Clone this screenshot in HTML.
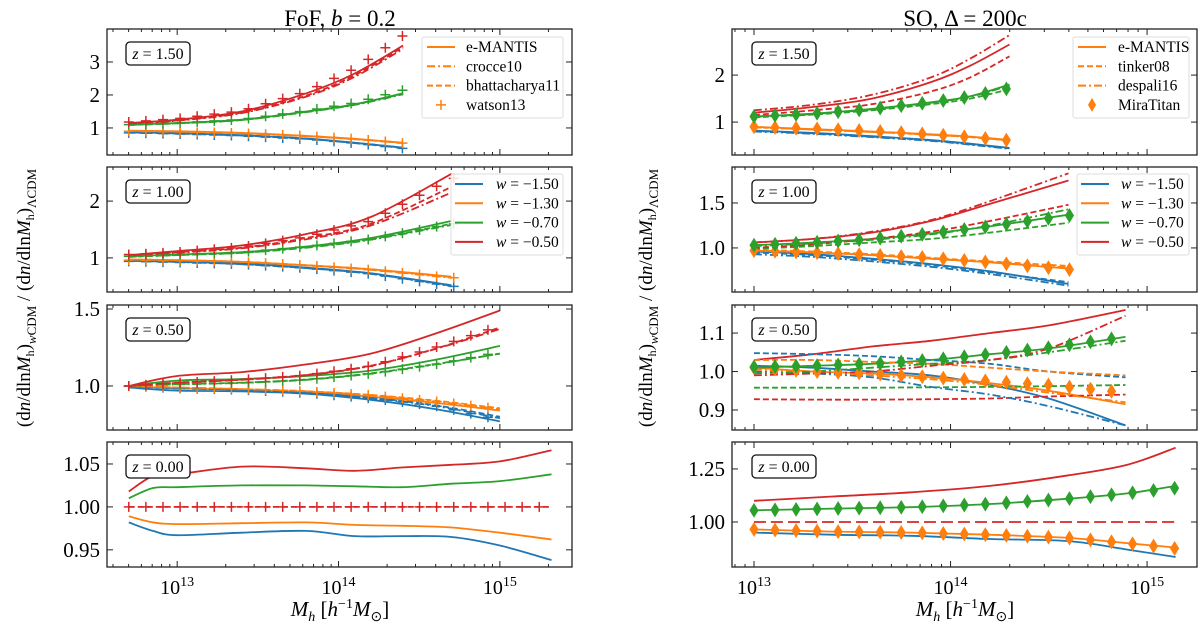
<!DOCTYPE html>
<html><head><meta charset="utf-8"><style>
html,body{margin:0;padding:0;background:#fff;}
svg{display:block;font-family:"Liberation Serif",serif;}
</style></head><body>
<svg id="fig" width="1200" height="627" viewBox="0 0 1200 627" xmlns="http://www.w3.org/2000/svg">
<text x="340" y="26" font-size="23" text-anchor="middle">FoF, <tspan font-style="italic">b</tspan> = 0.2</text>
<text x="965" y="26" font-size="23" text-anchor="middle">SO, Δ = 200c</text>
<text x="340" y="616" font-size="21" text-anchor="middle"><tspan font-style="italic">M</tspan><tspan font-style="italic" font-size="14" dy="5">h</tspan><tspan dy="-5">  [</tspan><tspan font-style="italic">h</tspan><tspan font-size="14" dy="-8">−1</tspan><tspan font-style="italic" dy="8">M</tspan><tspan font-size="14" dy="5">⊙</tspan><tspan dy="-5">]</tspan></text>
<text x="965" y="616" font-size="21" text-anchor="middle"><tspan font-style="italic">M</tspan><tspan font-style="italic" font-size="14" dy="5">h</tspan><tspan dy="-5">  [</tspan><tspan font-style="italic">h</tspan><tspan font-size="14" dy="-8">−1</tspan><tspan font-style="italic" dy="8">M</tspan><tspan font-size="14" dy="5">⊙</tspan><tspan dy="-5">]</tspan></text>
<text transform="translate(30,298) rotate(-90)" font-size="19" text-anchor="middle">(d<tspan font-style="italic">n</tspan>/dln<tspan font-style="italic">M</tspan><tspan font-size="12" dy="4">h</tspan><tspan dy="-4">)</tspan><tspan font-size="13" dy="6" font-style="italic">w</tspan><tspan font-size="13">CDM</tspan><tspan dy="-6"> / (d</tspan><tspan font-style="italic">n</tspan>/dln<tspan font-style="italic">M</tspan><tspan font-size="12" dy="4">h</tspan><tspan dy="-4">)</tspan><tspan font-size="13" dy="6">ΛCDM</tspan></text>
<text transform="translate(652,298) rotate(-90)" font-size="19" text-anchor="middle">(d<tspan font-style="italic">n</tspan>/dln<tspan font-style="italic">M</tspan><tspan font-size="12" dy="4">h</tspan><tspan dy="-4">)</tspan><tspan font-size="13" dy="6" font-style="italic">w</tspan><tspan font-size="13">CDM</tspan><tspan dy="-6"> / (d</tspan><tspan font-style="italic">n</tspan>/dln<tspan font-style="italic">M</tspan><tspan font-size="12" dy="4">h</tspan><tspan dy="-4">)</tspan><tspan font-size="13" dy="6">ΛCDM</tspan></text>
</svg>
<script>
// ---- data (log10 M nodes, series ordered w = -1.50, -1.30, -0.70, -0.50) ----
const wLabels = ["w = −1.50","w = −1.30","w = −0.70","w = −0.50"];
const zLabels = ["1.50","1.00","0.50","0.00"];
const xTickLabels = ["13","14","15"];

const L1_logM = [12.7,13.0,13.4,13.8,14.1,14.4];
const L1_emantis = [[0.87,0.84,0.78,0.68,0.55,0.40],[0.92,0.90,0.85,0.76,0.67,0.55],[1.10,1.15,1.25,1.50,1.72,2.05],[1.15,1.25,1.50,2.05,2.65,3.50]];
const L1_crocce = [[0.86,0.83,0.77,0.67,0.54,0.39],[0.91,0.89,0.84,0.75,0.66,0.54],[1.09,1.14,1.24,1.48,1.70,2.02],[1.13,1.22,1.45,1.95,2.55,3.40]];
const L1_bhatt = [[0.86,0.83,0.77,0.67,0.55,0.40],[0.91,0.89,0.84,0.75,0.66,0.55],[1.09,1.14,1.24,1.49,1.71,2.04],[1.14,1.23,1.47,1.98,2.60,3.45]];
const L1_watson = [[0.85,0.82,0.76,0.66,0.54,0.38],[0.90,0.88,0.84,0.76,0.67,0.54],[1.10,1.15,1.26,1.52,1.76,2.15],[1.18,1.28,1.52,2.10,2.80,3.80]];

const L2_logM = [12.7,13.0,13.4,13.8,14.2,14.7];
const L2_emantis = [[0.95,0.93,0.90,0.83,0.73,0.52],[0.97,0.96,0.93,0.87,0.80,0.67],[1.03,1.06,1.10,1.20,1.35,1.65],[1.05,1.12,1.22,1.42,1.72,2.48]];
const L2_crocce = [[0.95,0.93,0.89,0.82,0.72,0.50],[0.97,0.96,0.93,0.87,0.79,0.65],[1.02,1.05,1.09,1.18,1.32,1.58],[1.04,1.09,1.17,1.33,1.57,2.15]];
const L2_bhatt = [[0.95,0.93,0.89,0.82,0.72,0.51],[0.97,0.96,0.93,0.87,0.80,0.66],[1.02,1.05,1.09,1.19,1.33,1.60],[1.04,1.10,1.18,1.35,1.60,2.25]];
const L2_watson = [[0.94,0.92,0.89,0.82,0.72,0.50],[0.96,0.95,0.93,0.87,0.79,0.65],[1.03,1.06,1.10,1.20,1.33,1.60],[1.06,1.10,1.19,1.37,1.65,2.40]];

const L3_logM = [12.7,13.0,13.4,13.8,14.2,14.6,15.0];
const L3_emantis = [[0.99,0.97,0.965,0.95,0.91,0.85,0.77],[1.0,0.985,0.975,0.96,0.93,0.89,0.84],[1.0,1.035,1.045,1.065,1.10,1.17,1.26],[1.0,1.065,1.09,1.14,1.21,1.34,1.49]];
const L3_crocce = [[1.0,0.985,0.975,0.955,0.92,0.87,0.79],[1.0,0.99,0.98,0.965,0.94,0.90,0.85],[1.0,1.01,1.02,1.04,1.08,1.14,1.21],[1.0,1.02,1.04,1.07,1.13,1.24,1.37]];
const L3_bhatt = [[1.0,0.985,0.975,0.957,0.922,0.875,0.80],[1.0,0.99,0.98,0.966,0.942,0.905,0.855],[1.0,1.012,1.022,1.042,1.082,1.142,1.21],[1.0,1.022,1.042,1.072,1.132,1.242,1.38]];
const L3_watson = [[1.0,0.985,0.975,0.955,0.92,0.87,0.78],[1.0,0.99,0.98,0.965,0.94,0.90,0.85],[1.0,1.01,1.02,1.04,1.08,1.14,1.22],[1.0,1.02,1.04,1.07,1.13,1.25,1.39]];

const L4_logM = [12.7,12.85,13.0,13.4,13.8,14.1,14.4,14.7,15.0,15.32];
const L4_emantis = [[0.982,0.972,0.967,0.970,0.972,0.966,0.966,0.965,0.955,0.938],[0.989,0.982,0.980,0.981,0.982,0.979,0.978,0.976,0.970,0.962],[1.010,1.022,1.023,1.025,1.025,1.024,1.023,1.027,1.030,1.038],[1.018,1.036,1.038,1.047,1.045,1.042,1.046,1.049,1.053,1.066]];
const L4_watson = [[1,1,1,1,1,1,1,1,1,1],[1,1,1,1,1,1,1,1,1,1],[1,1,1,1,1,1,1,1,1,1],[1,1,1,1,1,1,1,1,1,1]];

const R1_logM = [13.0,13.3,13.6,13.9,14.1,14.3];
const R1_emantis = [[0.82,0.77,0.70,0.62,0.54,0.45],[0.90,0.85,0.80,0.74,0.69,0.62],[1.12,1.18,1.28,1.42,1.55,1.80],[1.20,1.32,1.50,1.85,2.20,2.65]];
const R1_tinker = [[0.81,0.76,0.69,0.61,0.53,0.44],[0.89,0.84,0.79,0.73,0.68,0.61],[1.10,1.16,1.25,1.38,1.50,1.70],[1.15,1.25,1.38,1.65,1.95,2.40]];
const R1_despali = [[0.80,0.75,0.68,0.60,0.52,0.43],[0.89,0.84,0.79,0.73,0.68,0.61],[1.11,1.17,1.27,1.41,1.54,1.78],[1.25,1.37,1.58,1.95,2.35,2.85]];
const R1_mira = [[0.82,0.77,0.70,0.62,0.54,0.45],[0.90,0.86,0.81,0.74,0.68,0.61],[1.12,1.18,1.28,1.42,1.54,1.72],[1.20,1.32,1.50,1.85,2.20,2.65]];

const R2_logM = [13.0,13.3,13.6,13.9,14.2,14.6];
const R2_emantis = [[0.96,0.93,0.88,0.82,0.74,0.60],[0.97,0.95,0.92,0.88,0.84,0.77],[1.03,1.06,1.10,1.16,1.24,1.37],[1.06,1.10,1.17,1.30,1.49,1.75]];
const R2_tinker = [[0.95,0.92,0.87,0.81,0.73,0.62],[0.98,0.96,0.93,0.89,0.85,0.80],[0.99,1.02,1.06,1.10,1.17,1.28],[1.00,1.04,1.10,1.18,1.30,1.48]];
const R2_despali = [[0.93,0.90,0.85,0.79,0.71,0.58],[0.97,0.95,0.92,0.88,0.84,0.78],[1.02,1.05,1.09,1.15,1.25,1.43],[1.06,1.10,1.18,1.31,1.52,1.83]];
const R2_mira = [[0.96,0.93,0.88,0.82,0.74,0.60],[0.97,0.95,0.92,0.89,0.84,0.76],[1.03,1.06,1.10,1.16,1.24,1.36],[1.06,1.10,1.17,1.30,1.49,1.75]];

const R3_logM = [13.0,13.3,13.6,13.9,14.2,14.5,14.89];
const R3_emantis = [[1.015,1.01,1.0,0.99,0.965,0.93,0.86],[1.01,1.0,0.995,0.985,0.97,0.95,0.915],[1.01,1.015,1.02,1.03,1.045,1.06,1.09],[1.03,1.045,1.065,1.08,1.10,1.12,1.16]];
const R3_tinker = [[1.048,1.045,1.04,1.03,1.02,1.0,0.985],[1.03,1.03,1.025,1.02,1.01,1.0,0.99],[0.958,0.958,0.958,0.959,0.96,0.962,0.965],[0.928,0.927,0.927,0.928,0.93,0.935,0.94]];
const R3_despali = [[1.0,0.995,0.985,0.96,0.94,0.91,0.86],[1.005,1.0,0.99,0.98,0.965,0.945,0.92],[0.995,1.0,1.01,1.02,1.03,1.05,1.08],[0.99,0.995,1.0,1.015,1.03,1.06,1.145]];
const R3_mira = [[1.015,1.01,1.0,0.99,0.965,0.93,0.86],[1.01,1.0,0.995,0.985,0.975,0.965,0.945],[1.012,1.015,1.02,1.03,1.045,1.062,1.09],[1.03,1.045,1.065,1.08,1.10,1.12,1.16]];

const R4_logM = [13.0,13.4,13.8,14.2,14.6,14.9,15.145];
const R4_emantis = [[0.95,0.94,0.935,0.92,0.91,0.87,0.835],[0.965,0.955,0.95,0.94,0.925,0.90,0.88],[1.055,1.063,1.07,1.085,1.11,1.135,1.17],[1.10,1.12,1.14,1.17,1.22,1.27,1.35]];
const R4_tinker = [[1,1,1,1,1,1,1],[1,1,1,1,1,1,1],[1,1,1,1,1,1,1],[1,1,1,1,1,1,1]];
const R4_mira = [[0.95,0.94,0.935,0.92,0.91,0.87,0.835],[0.965,0.955,0.95,0.94,0.925,0.90,0.875],[1.055,1.063,1.07,1.085,1.11,1.135,1.16],[1.10,1.12,1.14,1.17,1.22,1.27,1.35]];

// ---- styles / layout ----
const COLORS = ["#1f77b4","#ff7f0e","#2ca02c","#d62728"];
const DASH = {solid:null, dashed:"6,3", dashdot:"8,3,2,3", long:"12,5"};
const svg = document.getElementById('fig');
const NS = "http://www.w3.org/2000/svg";
function mk(tag, attrs, parent){ const e=document.createElementNS(NS,tag); for(const k in attrs) e.setAttribute(k,attrs[k]); (parent||svg).appendChild(e); return e; }

const ROWS = [[29,155],[167,292],[305,430],[442,567]];
const COLS = [{x0:107,x1:572,xmin:12.565,xmax:15.447,step:0.106},{x0:732,x1:1197,xmin:12.888,xmax:15.254,step:0.107}];

const panels = [
 {col:0,row:0,ymin:0.18,ymax:4.0,yt:[1,2,3],yl:["1","2","3"],x:L1_logM,lines:[[L1_emantis,"solid"],[L1_crocce,"dashdot"],[L1_bhatt,"dashed"]],mk:[L1_watson,"plus",[0,1,2,3]]},
 {col:0,row:1,ymin:0.4,ymax:2.6,yt:[1,2],yl:["1","2"],x:L2_logM,lines:[[L2_emantis,"solid"],[L2_crocce,"dashdot"],[L2_bhatt,"dashed"]],mk:[L2_watson,"plus",[0,1,2,3]]},
 {col:0,row:2,ymin:0.714,ymax:1.526,yt:[1.0,1.5],yl:["1.0","1.5"],x:L3_logM,lines:[[L3_emantis,"solid"],[L3_crocce,"dashdot"],[L3_bhatt,"dashed"]],mk:[L3_watson,"plus",[0,1,2,3]]},
 {col:0,row:3,ymin:0.930,ymax:1.0756,yt:[0.95,1.0,1.05],yl:["0.95","1.00","1.05"],x:L4_logM,lines:[[L4_emantis,"solid"],[L4_watson,"dashed",[3]]],mk:[L4_watson,"plus",[3]]},
 {col:1,row:0,ymin:0.30,ymax:2.98,yt:[1,2],yl:["1","2"],x:R1_logM,lines:[[R1_emantis,"solid"],[R1_tinker,"dashed"],[R1_despali,"dashdot"]],mk:[R1_mira,"diamond",[1,2]]},
 {col:1,row:1,ymin:0.51,ymax:1.9,yt:[1.0,1.5],yl:["1.0","1.5"],x:R2_logM,lines:[[R2_emantis,"solid"],[R2_tinker,"dashed"],[R2_despali,"dashdot"]],mk:[R2_mira,"diamond",[1,2]]},
 {col:1,row:2,ymin:0.848,ymax:1.173,yt:[0.9,1.0,1.1],yl:["0.9","1.0","1.1"],x:R3_logM,lines:[[R3_emantis,"solid"],[R3_tinker,"dashed"],[R3_despali,"dashdot"]],mk:[R3_mira,"diamond",[1,2]]},
 {col:1,row:3,ymin:0.788,ymax:1.377,yt:[1.0,1.25],yl:["1.00","1.25"],x:R4_logM,lines:[[R4_emantis,"solid"],[R4_tinker,"long",[3]]],mk:[R4_mira,"diamond",[1,2]]}
];

function interp(xs, ys, x){
  if(x<=xs[0]) return ys[0];
  for(let i=1;i<xs.length;i++){ if(x<=xs[i]+1e-9){ const t=(x-xs[i-1])/(xs[i]-xs[i-1]); return ys[i-1]+t*(ys[i]-ys[i-1]); } }
  return ys[ys.length-1];
}
function smoothPath(pts){
  let d="M"+pts[0][0].toFixed(1)+","+pts[0][1].toFixed(1);
  for(let i=0;i<pts.length-1;i++){
    const p0=pts[Math.max(0,i-1)],p1=pts[i],p2=pts[i+1],p3=pts[Math.min(pts.length-1,i+2)];
    const c1=[p1[0]+(p2[0]-p0[0])/6,p1[1]+(p2[1]-p0[1])/6];
    const c2=[p2[0]-(p3[0]-p1[0])/6,p2[1]-(p3[1]-p1[1])/6];
    d+=" C"+c1[0].toFixed(1)+","+c1[1].toFixed(1)+" "+c2[0].toFixed(1)+","+c2[1].toFixed(1)+" "+p2[0].toFixed(1)+","+p2[1].toFixed(1);
  }
  return d;
}

panels.forEach((p,pi)=>{
  const C=COLS[p.col], [y0,y1]=ROWS[p.row];
  const sx=v=>C.x0+(v-C.xmin)/(C.xmax-C.xmin)*(C.x1-C.x0);
  const sy=v=>y1-(v-p.ymin)/(p.ymax-p.ymin)*(y1-y0);
  const g=mk('g',{});
  
  
  const clipId='clip'+pi;
  const cp=mk('clipPath',{id:clipId},g); mk('rect',{x:C.x0,y:y0,width:C.x1-C.x0,height:y1-y0},cp);
  const plot=mk('g',{'clip-path':'url(#'+clipId+')'},g);
  p.lines.forEach(([vals,style,only])=>{
    vals.forEach((ys,wi)=>{
      if(only && only.indexOf(wi)<0) return;
      const pts=p.x.map((x,i)=>[sx(x),sy(ys[i])]);
      const a={d:smoothPath(pts),fill:"none",stroke:COLORS[wi],'stroke-width':1.8,'stroke-linejoin':'round'};
      if(DASH[style]) a['stroke-dasharray']=DASH[style];
      const el=mk('path',a,plot);
      
      
    });
  });
  const [mvals,mtype,which]=p.mk;
  const xe=p.x[p.x.length-1];
  which.forEach(wi=>{
    for(let lx=p.x[0]; lx<=xe+0.02; lx+=C.step){
      const X=sx(lx), Y=sy(interp(p.x,mvals[wi],lx));
      let el;
      if(mtype==="plus") el=mk('path',{d:`M${X-5},${Y}h10M${X},${Y-5}v10`,stroke:COLORS[wi],'stroke-width':1.5,fill:'none'},plot);
      else el=mk('path',{d:`M${X},${Y-6.5}L${X+4},${Y}L${X},${Y+6.5}L${X-4},${Y}Z`,fill:COLORS[wi],stroke:COLORS[wi],'stroke-width':1},plot);
      
      
    }
  });
  const fr=mk('rect',{x:C.x0,y:y0,width:C.x1-C.x0,height:y1-y0,fill:'none',stroke:'#222','stroke-width':1.3},g);
  
  
  for(let dec=12; dec<=15; dec++){
    for(let m=1;m<=9;m++){
      const lv=dec+Math.log10(m); if(lv<C.xmin||lv>C.xmax) continue;
      const X=sx(lv), L=m===1?6:3;
      mk('line',{x1:X,x2:X,y1:y1,y2:y1-L,stroke:'#222','stroke-width':1},g);
      mk('line',{x1:X,x2:X,y1:y0,y2:y0+L,stroke:'#222','stroke-width':1},g);
    }
  }
  if(p.row===3){
    xTickLabels.forEach(t=>{
      const X=sx(+t);
      const tx=mk('text',{x:X,y:y1+27,'font-size':20,'text-anchor':'middle'},g);
      
      
      tx.innerHTML='10<tspan font-size="14" dy="-8">'+t+'</tspan>';
    });
  }
  p.yt.forEach((v,i)=>{
    const Y=sy(v);
    mk('line',{x1:C.x0,x2:C.x0+6,y1:Y,y2:Y,stroke:'#222','stroke-width':1},g);
    mk('line',{x1:C.x1,x2:C.x1-6,y1:Y,y2:Y,stroke:'#222','stroke-width':1},g);
    const t=mk('text',{x:C.x0-7,y:Y+7,'font-size':21,'text-anchor':'end'},g);
    
    
    t.textContent=p.yl[i];
  });
  const bx=p.col?752:126;
  const zb=mk('rect',{x:bx,y:y0+13,width:64,height:23,rx:4,fill:'#fff',stroke:'#111','stroke-width':1.3},g);
  
  
  const zt=mk('text',{x:bx+32,y:y0+30,'font-size':16,'text-anchor':'middle'},g);
  
  
  zt.innerHTML='<tspan font-style="italic">z</tspan> = '+zLabels[p.row];
});

function legend(name,x,y,w,h,lx,tx,rows){
  const g=mk('g',{});
  
  
  mk('rect',{x:x,y:y,width:w,height:h,rx:2,fill:'#fff','fill-opacity':0.85,stroke:'#ddd','stroke-width':1},g);
  rows.forEach((r,i)=>{
    const Y=y+10+i*19.3;
    if(r.type==='plus') mk('path',{d:`M${lx+9},${Y}h10M${lx+14},${Y-5}v10`,stroke:r.c,'stroke-width':1.5},g);
    else if(r.type==='diamond') mk('path',{d:`M${lx+14},${Y-7}L${lx+18},${Y}L${lx+14},${Y+7}L${lx+10},${Y}Z`,fill:r.c},g);
    else { const a={x1:lx,x2:lx+28,y1:Y,y2:Y,stroke:r.c,'stroke-width':2}; if(DASH[r.type]) a['stroke-dasharray']=DASH[r.type]; mk('line',a,g); }
    const t=mk('text',{x:tx,y:Y+5,'font-size':15.5},g);
    
    
    if(r.italicW){ t.innerHTML='<tspan font-style="italic">w</tspan>'+r.label.slice(1); } else t.textContent=r.label;
  });
}
legend('fof-model-legend',422,37,141,81,427,466,[{type:'solid',c:COLORS[1],label:'e-MANTIS'},{type:'dashdot',c:COLORS[1],label:'crocce10'},{type:'dashed',c:COLORS[1],label:'bhattacharya11'},{type:'plus',c:COLORS[1],label:'watson13'}]);
legend('fof-w-legend',451,174,112,81,455,496,wLabels.map((l,i)=>({type:'solid',c:COLORS[i],label:l,italicW:true})));
legend('so-model-legend',1073,37,116,81,1078,1118,[{type:'solid',c:COLORS[1],label:'e-MANTIS'},{type:'dashed',c:COLORS[1],label:'tinker08'},{type:'dashdot',c:COLORS[1],label:'despali16'},{type:'diamond',c:COLORS[1],label:'MiraTitan'}]);
legend('so-w-legend',1077,174,112,81,1081,1121,wLabels.map((l,i)=>({type:'solid',c:COLORS[i],label:l,italicW:true})));
</script>
</body></html>
